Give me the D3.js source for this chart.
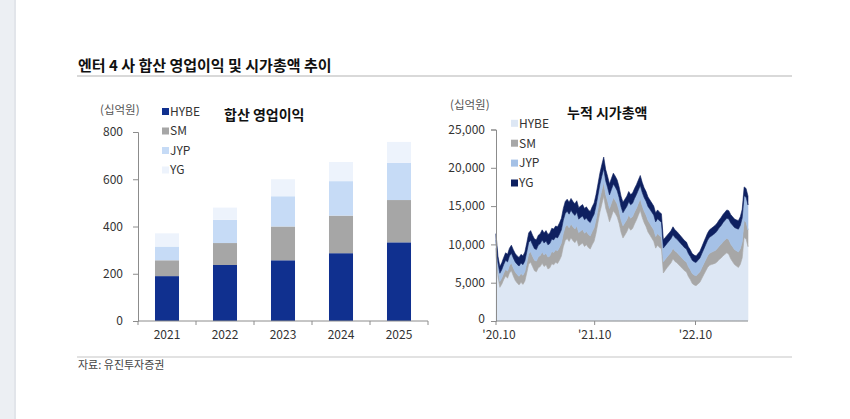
<!DOCTYPE html>
<html><head><meta charset="utf-8">
<script src="https://cdn.jsdelivr.net/npm/d3@7"></script>
<style>
html,body{margin:0;padding:0;background:#fff;}
svg{display:block;font-family:"Noto Sans CJK KR","Noto Sans",sans-serif;}
</style></head>
<body>
<svg id="c" width="850" height="419"></svg>
<script>
// ---- Left chart data: 합산 영업이익 (십억원) ----
const years = ['2021','2022','2023','2024','2025'];
const opHYBE = [190,237,257,287,333];
const opSM   = [67,93,143,159,179];
const opJYP  = [58,98,128,146,158];
const opYG   = [56,52,72,81,88];
const opYTicks = [0,200,400,600,800];

// ---- Right chart data: 누적 시가총액 (십억원), weekly from 2020-10-16 ----
const capStart = '2020-10-16';
const capHYBE = [8750,5820,4390,4800,5400,5890,5590,6270,6560,5860,
5300,4960,4710,5050,4780,5200,6280,7430,7660,7100,
6560,6420,6950,7110,7540,7100,7340,6800,6940,7470,
7330,7660,7510,7940,8470,9700,10510,10760,10390,10860,
10490,10230,10610,9780,9990,10170,9730,9960,9590,9400,
9950,10410,11470,12830,14190,15250,16300,14750,13900,12950,
13640,14390,14030,13580,12730,11580,10830,11220,11640,12250,
11860,12070,12670,13180,13810,14430,13530,12840,12320,11620,
11220,10800,10390,9510,9900,9600,9450,6270,6640,6970,
7290,7590,8130,7780,7610,7340,7080,6820,6560,6400,
5810,5420,4900,4710,4610,4840,5060,5550,6040,6520,
7000,7280,7360,7450,7540,7730,8020,8210,8500,8700,
8900,8710,8120,7740,7360,7170,6990,7390,8250,10910,
10710,9710];
const capSM = [750,760,770,800,840,880,920,970,1020,1060,
1090,1100,1120,1150,1180,1220,1280,1350,1380,1360,
1380,1400,1430,1450,1480,1500,1520,1540,1560,1590,
1610,1640,1660,1690,1720,1740,1780,1800,1790,1810,
1800,1780,1790,1760,1750,1770,1740,1730,1720,1710,
1730,1750,1770,1790,1800,1820,1800,1780,1760,1740,
1750,1720,1700,1680,1650,1620,1600,1610,1590,1580,
1570,1560,1560,1550,1540,1530,1530,1520,1530,1520,
1510,1520,1530,1510,1520,1520,1500,1450,1430,1420,
1400,1390,1370,1360,1350,1340,1330,1320,1310,1300,
1290,1280,1300,1290,1300,1330,1360,1400,1440,1480,
1520,1560,1600,1640,1680,1720,1760,1800,1840,1870,
1900,1920,1940,1960,1980,2000,2020,2050,2100,2200,
2180,2180];
const capJYP = [1050,1060,1070,1100,1130,1170,1200,1240,1270,1300,
1310,1330,1350,1370,1390,1410,1440,1480,1500,1490,
1500,1510,1530,1540,1560,1570,1590,1600,1620,1640,
1650,1670,1680,1700,1710,1730,1760,1780,1770,1790,
1780,1770,1790,1760,1770,1780,1760,1750,1740,1750,
1770,1780,1790,1800,1820,1830,1800,1790,1780,1770,
1780,1770,1760,1740,1730,1720,1700,1710,1720,1730,
1740,1750,1760,1770,1750,1740,1740,1760,1790,1820,
1850,1880,1900,1920,1940,1960,1950,1800,1760,1750,
1760,1780,1770,1750,1740,1730,1720,1710,1700,1690,
1700,1710,1720,1730,1730,1760,1800,1850,1900,1960,
2020,2080,2140,2200,2260,2320,2380,2440,2500,2560,
2620,2680,2740,2800,2860,2920,2980,3040,3120,3240,
3260,3260];
const capYG = [850,860,870,900,930,960,990,1020,1050,1080,
1100,1110,1120,1130,1150,1170,1200,1240,1260,1250,
1260,1270,1290,1300,1320,1330,1350,1360,1380,1400,
1410,1430,1450,1470,1500,1530,1550,1560,1550,1540,
1530,1520,1510,1500,1490,1480,1470,1460,1450,1440,
1450,1460,1470,1480,1490,1500,1500,1480,1460,1440,
1430,1420,1410,1400,1390,1380,1370,1360,1350,1340,
1330,1320,1310,1300,1300,1300,1300,1280,1260,1240,
1220,1200,1180,1160,1140,1120,1100,1080,1070,1060,
1050,1040,1030,1010,1000,990,970,950,930,910,
900,890,880,870,860,870,880,900,920,940,
960,980,1000,1010,1020,1030,1040,1050,1060,1070,
1080,1090,1100,1100,1100,1110,1110,1120,1130,1150,
1150,1150];
const capYTicks = [0,5000,10000,15000,20000,25000];
const capXTicks = ['2020-10-16','2021-10-10','2022-10-12'];
const capXLabels = ["'20.10","'21.10","'22.10"];

const keys = ['HYBE','SM','JYP','YG'];

const svg = d3.select('#c');
// left gray strip
svg.append('rect').attr('x',0).attr('y',0).attr('width',16).attr('height',419).attr('fill','#eceff3');
svg.append('rect').attr('x',14).attr('y',0).attr('width',2).attr('height',419).attr('fill','#e2e5ea');

// title
svg.append('text').attr('x',78).attr('y',71).attr('font-size',15).attr('font-weight','bold')
  .attr('fill','#111').text('엔터 4 사 합산 영업이익 및 시가총액 추이');
svg.append('line').attr('x1',77).attr('x2',792).attr('y1',76).attr('y2',76).attr('stroke','#d9d9d9').attr('stroke-width',2);
svg.append('line').attr('x1',77).attr('x2',792).attr('y1',357).attr('y2',357).attr('stroke','#d9d9d9').attr('stroke-width',1.5);
svg.append('text').attr('x',78).attr('y',369).attr('font-size',11).attr('fill','#444').text('자료: 유진투자증권');

// ---------- LEFT CHART ----------
const colL = {HYBE:'#10308f', SM:'#a6a6a6', JYP:'#c6dbf6', YG:'#edf3fc'};
const opData = years.map((y,i)=>({year:y, HYBE:opHYBE[i], SM:opSM[i], JYP:opJYP[i], YG:opYG[i]}));
const xL = d3.scaleBand().domain(years).range([138,428]).paddingInner(0.586).paddingOuter(0.293);
const yL = d3.scaleLinear().domain([0,800]).range([321,132]);
const stL = d3.stack().keys(keys)(opData);
const gL = svg.append('g');
stL.forEach(s=>{
  gL.selectAll(null).data(s).enter().append('rect')
    .attr('x',d=>xL(d.data.year)).attr('width',xL.bandwidth())
    .attr('y',d=>yL(d[1])).attr('height',d=>yL(d[0])-yL(d[1]))
    .attr('fill',colL[s.key]);
});
const axYL = svg.append('g').attr('transform','translate(138,0)')
  .call(d3.axisLeft(yL).tickValues(opYTicks).tickSize(5).tickPadding(10));
axYL.selectAll('path,line').attr('stroke','#8c8c8c');
axYL.selectAll('text').attr('font-size',12).attr('fill','#333').attr('font-family','"Noto Sans CJK KR",sans-serif');
// x axis
const axXL = svg.append('g');
axXL.append('line').attr('x1',138).attr('x2',428).attr('y1',321).attr('y2',321).attr('stroke','#8c8c8c');
const bounds = years.map(y=>xL(y)+xL.bandwidth()/2-xL.step()/2).concat([xL(years[years.length-1])+xL.bandwidth()/2+xL.step()/2]);
axXL.selectAll('.tk').data(bounds).enter().append('line')
  .attr('x1',d=>d).attr('x2',d=>d).attr('y1',321).attr('y2',325).attr('stroke','#8c8c8c');
axXL.selectAll('.lb').data(years).enter().append('text')
  .attr('x',d=>xL(d)+xL.bandwidth()/2).attr('y',339).attr('text-anchor','middle')
  .attr('font-size',12).attr('fill','#333').text(d=>d);
svg.append('text').attr('x',100).attr('y',114).attr('font-size',11.5).attr('fill','#555').text('(십억원)');
svg.append('text').attr('x',224).attr('y',120).attr('font-size',14).attr('font-weight','bold').attr('fill','#111').text('합산 영업이익');
const lgL = svg.append('g');
keys.forEach((k,i)=>{
  const cy = 111.5 + i*19.5;
  lgL.append('rect').attr('x',162).attr('y',cy-3.5).attr('width',7).attr('height',7).attr('fill',colL[k]);
  lgL.append('text').attr('x',170).attr('y',cy+4.3).attr('font-size',12).attr('fill','#333').text(k);
});

// ---------- RIGHT CHART ----------
const colR = {HYBE:'#dde7f4', SM:'#a7a7a7', JYP:'#a5c1e6', YG:'#0e2060'};
const t0 = d3.isoParse(capStart+'T00:00:00');
const capData = capHYBE.map((v,i)=>({date:d3.timeDay.offset(t0,7*i), HYBE:v, SM:capSM[i], JYP:capJYP[i], YG:capYG[i]}));
const xR = d3.scaleTime().domain(d3.extent(capData,d=>d.date)).range([496,748]);
const yR = d3.scaleLinear().domain([0,25000]).range([321,129.5]);
const stR = d3.stack().keys(keys)(capData);
const area = d3.area().x(d=>xR(d.data.date)).y0(d=>yR(d[0])).y1(d=>yR(d[1]));
svg.append('g').selectAll('path').data(stR).enter().append('path')
  .attr('d',area).attr('fill',d=>colR[d.key]).attr('stroke',d=>colR[d.key]).attr('stroke-width',0.6);
const axYR = svg.append('g').attr('transform','translate(496,0)')
  .call(d3.axisLeft(yR).tickValues(capYTicks).tickSize(5).tickPadding(6).tickFormat(d3.format(',')));
axYR.selectAll('path,line').attr('stroke','#8c8c8c');
axYR.selectAll('text').attr('font-size',12).attr('fill','#333').attr('font-family','"Noto Sans CJK KR",sans-serif');
// lift the zero label slightly so it clears the first date label
axYR.selectAll('.tick').filter(d=>d===0).select('text').attr('dy','0.1em');
const tickDates = capXTicks.map(s=>d3.isoParse(s+'T00:00:00'));
const axXR = svg.append('g');
axXR.append('line').attr('x1',496).attr('x2',748).attr('y1',321).attr('y2',321).attr('stroke','#8c8c8c');
axXR.selectAll('.tk').data(tickDates).enter().append('line')
  .attr('x1',d=>xR(d)).attr('x2',d=>xR(d)).attr('y1',321).attr('y2',325).attr('stroke','#8c8c8c');
axXR.selectAll('.lb').data(tickDates).enter().append('text')
  .attr('x',(d,i)=>xR(d)+(i===0?3:0)).attr('y',339).attr('text-anchor','middle')
  .attr('font-size',12).attr('fill','#333').text((d,i)=>capXLabels[i]);
svg.append('text').attr('x',450).attr('y',109).attr('font-size',11.5).attr('fill','#555').text('(십억원)');
svg.append('text').attr('x',567).attr('y',118).attr('font-size',14).attr('font-weight','bold').attr('fill','#111').text('누적 시가총액');
const lgR = svg.append('g');
keys.forEach((k,i)=>{
  const cy = 123.3 + i*19.9;
  lgR.append('rect').attr('x',511).attr('y',cy-3.5).attr('width',7).attr('height',7).attr('fill',colR[k]);
  lgR.append('text').attr('x',519).attr('y',cy+4.3).attr('font-size',12).attr('fill','#333').text(k);
});
</script>
</body></html>
